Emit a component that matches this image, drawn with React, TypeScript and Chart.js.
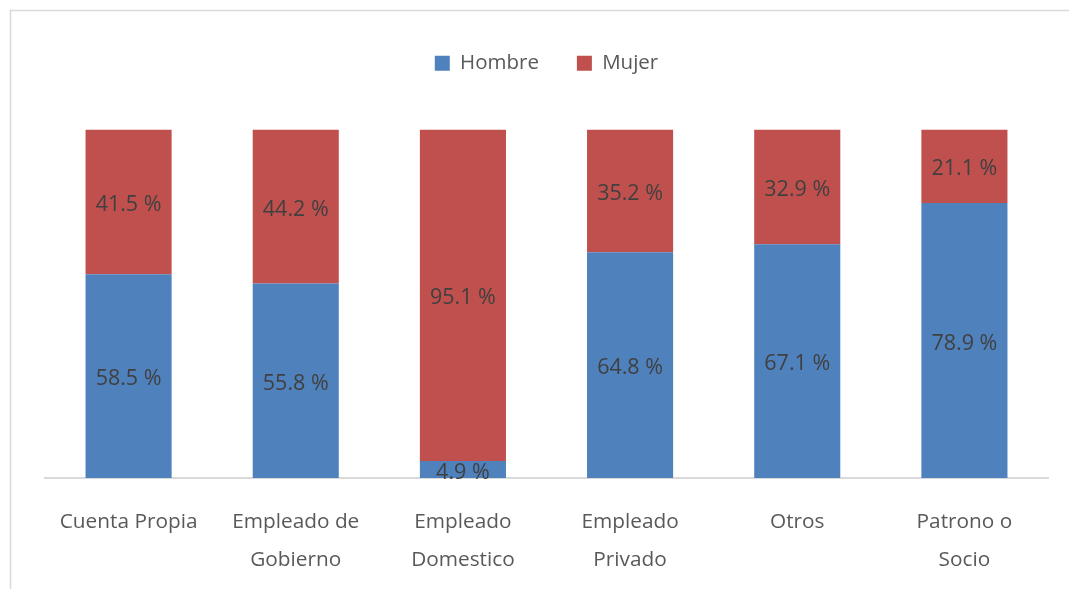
import React, { useEffect, useRef } from "react";
import { Chart, registerables } from "chart.js";

Chart.register(...registerables);

const categories: (string | string[])[] = [
  "Cuenta Propia",
  ["Empleado de", "Gobierno"],
  ["Empleado", "Domestico"],
  ["Empleado", "Privado"],
  "Otros",
  ["Patrono o", "Socio"],
];
const hombre = [58.5, 55.8, 4.9, 64.8, 67.1, 78.9];
const mujer = [41.5, 44.2, 95.1, 35.2, 32.9, 21.1];
const seriesNames = ["Hombre", "Mujer"];

const FONT = "'Open Sans', 'Noto Sans', sans-serif";

const frame = {
  id: "frame",
  beforeDraw(chart: any) {
    const ctx = chart.ctx;
    ctx.save();
    ctx.fillStyle = "#ffffff";
    ctx.fillRect(0, 0, chart.width, chart.height);
    ctx.strokeStyle = "#d9d9d9";
    ctx.lineWidth = 1.5;
    ctx.strokeRect(10.5, 10.5, chart.width + 20, chart.height + 20);
    ctx.restore();
  },
};

const labelsPlugin = {
  id: "segLabels",
  afterDatasetsDraw(chart: any) {
    const ctx = chart.ctx;
    ctx.save();
    ctx.font = `21.5px ${FONT}`;
    ctx.fillStyle = "#404040";
    ctx.textAlign = "center";
    ctx.textBaseline = "middle";
    chart.data.datasets.forEach((ds: any, di: number) => {
      const meta = chart.getDatasetMeta(di);
      meta.data.forEach((bar: any, i: number) => {
        const { x, y, base } = bar.getProps(["x", "y", "base"], true);
        const v = ds.data[i] as number;
        ctx.fillText(`${v.toFixed(1)} %`, x, (y + base) / 2 + 3);
      });
    });
    ctx.restore();
  },
};

export default function App() {
  const ref = useRef<HTMLCanvasElement>(null);
  useEffect(() => {
    if (!ref.current) return;
    const chart = new Chart(ref.current, {
      type: "bar",
      data: {
        labels: categories,
        datasets: [
          { label: seriesNames[0], data: hombre, backgroundColor: "#4F81BD" },
          { label: seriesNames[1], data: mujer, backgroundColor: "#C0504D" },
        ],
      },
      options: {
        animation: false,
        responsive: false,
        maintainAspectRatio: false,
        datasets: { bar: { categoryPercentage: 1, barPercentage: 0.515 } },
        layout: { padding: { left: 45, right: 21, top: 15, bottom: 0 } },
        plugins: {
          legend: {
            position: "top",
            labels: {
              boxWidth: 15,
              boxHeight: 15,
              padding: 38,
              color: "#595959",
              font: { family: FONT, size: 20.5 },
            },
          },
          subtitle: {
            display: true,
            text: "",
            position: "top",
            weight: 500,
            padding: { top: 45, bottom: 0 },
            font: { size: 1, lineHeight: 1 },
          } as any,
          tooltip: { enabled: false },
        },
        scales: {
          x: {
            stacked: true,
            grid: { display: false, drawTicks: false },
            border: { color: "#d9d9d9", width: 2 },
            afterFit: (scale: any) => {
              scale.height = 111;
            },
            ticks: {
              color: "#595959",
              padding: 25,
              maxRotation: 0,
              autoSkip: false,
              font: { family: FONT, size: 20.8, lineHeight: 1.83 },
            },
          },
          y: { stacked: true, display: false, min: 0, max: 100 },
        },
      },
      plugins: [frame, labelsPlugin],
    });
    return () => chart.destroy();
  }, []);
  return (
    <div style={{ position: "fixed", left: 0, top: 0, width: 1069, height: 589 }}>
      <canvas ref={ref} width={1069} height={589} style={{ display: "block" }} />
    </div>
  );
}
